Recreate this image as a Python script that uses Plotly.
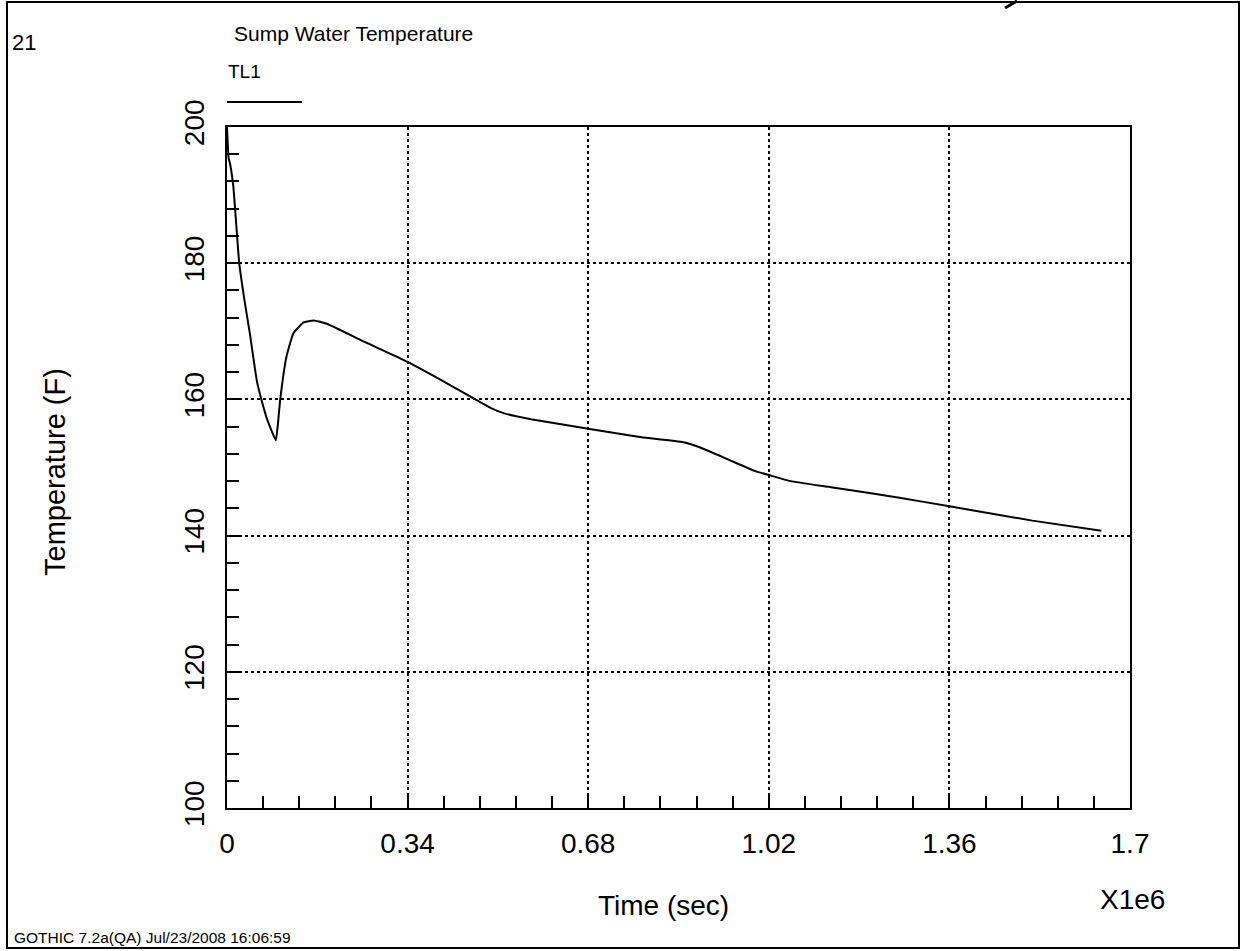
import plotly.graph_objects as go

# ---- data (time in units of 1e6 s, temperature in F) ----
time_1e6 = [0.0, 0.003, 0.006, 0.012, 0.023, 0.033, 0.043, 0.056, 0.065, 0.075,
            0.085, 0.092, 0.096, 0.100, 0.106, 0.112, 0.125, 0.144, 0.163, 0.188,
            0.26, 0.34, 0.42, 0.471, 0.50, 0.522, 0.572, 0.68, 0.774, 0.859,
            0.892, 0.943, 0.993, 1.02, 1.061, 1.137, 1.263, 1.36, 1.516, 1.646]
temp_F = [200.0, 195.5, 194.5, 191.2, 180.0, 174.5, 169.7, 162.8, 159.9, 157.2,
          155.2, 154.0, 156.5, 159.9, 163.5, 166.3, 169.7, 171.3, 171.6, 171.1,
          168.4, 165.5, 162.1, 159.85, 158.6, 157.95, 157.1, 155.7, 154.5, 153.7,
          152.9, 151.2, 149.5, 148.9, 148.0, 147.1, 145.6, 144.3, 142.2, 140.7]

x_tick_vals = [0, 0.34, 0.68, 1.02, 1.36, 1.7]
x_tick_text = ["0", "0.34", "0.68", "1.02", "1.36", "1.7"]
y_tick_vals = [100, 120, 140, 160, 180, 200]
y_tick_text = ["100", "120", "140", "160", "180", "200"]

# ---- layout geometry ----
W, H = 1241, 951
L, R, T, B = 227, 1130, 127, 808
FONT = "Liberation Sans, Arial, sans-serif"


def px(x):
    return (x - L) / (R - L)


def py(y):
    return (B - y) / (B - T)


fig = go.Figure(
    go.Scatter(x=time_1e6, y=temp_F, mode="lines",
               line=dict(color="black", width=2, shape="spline", smoothing=0.4),
               showlegend=False, hoverinfo="skip")
)

fig.update_layout(
    width=W, height=H,
    margin=dict(l=L, r=W - R, t=T, b=H - B, pad=0),
    paper_bgcolor="white", plot_bgcolor="white",
    font=dict(family=FONT, color="black"),
    showlegend=False,
)

axis_common = dict(
    ticks="inside", ticklen=12, tickwidth=2, tickcolor="black",
    showline=True, linecolor="black", linewidth=2, mirror=True,
    showgrid=True, gridcolor="black", griddash="dot", gridwidth=1.5,
    zeroline=False, tickfont=dict(size=28, family=FONT, color="black"),
)

fig.update_xaxes(
    range=[0, 1.7], tickmode="array", tickvals=x_tick_vals, ticktext=x_tick_text,
    ticklabelstandoff=9,
    minor=dict(ticks="inside", ticklen=12, tickwidth=2, tickcolor="black",
               tickmode="linear", tick0=0, dtick=0.068, showgrid=False),
    **axis_common,
)
fig.update_yaxes(
    range=[100, 200], tickmode="array", tickvals=y_tick_vals, ticktext=y_tick_text,
    tickangle=-90, ticklabelstandoff=10,
    minor=dict(ticks="inside", ticklen=12, tickwidth=2, tickcolor="black",
               tickmode="linear", tick0=100, dtick=4, showgrid=False),
    **axis_common,
)

ann = []
ann.append(dict(text="21", x=px(10), y=py(43), xanchor="left", yanchor="middle",
                font=dict(size=22)))
ann.append(dict(text="Sump Water Temperature", x=px(232), y=py(33), xanchor="left",
                yanchor="middle", font=dict(size=21)))
ann.append(dict(text="TL1", x=px(226), y=py(71), xanchor="left", yanchor="middle",
                font=dict(size=19)))
ann.append(dict(text="Temperature (F)", x=px(55), y=py(472), xanchor="center",
                yanchor="middle", textangle=-90, font=dict(size=29)))
ann.append(dict(text="Time (sec)", x=px(663), y=py(905), xanchor="center",
                yanchor="middle", font=dict(size=28)))
ann.append(dict(text="X1e6", x=px(1098), y=py(899), xanchor="left",
                yanchor="middle", font=dict(size=28)))
ann.append(dict(text="GOTHIC 7.2a(QA) Jul/23/2008 16:06:59", x=px(12), y=py(937),
                xanchor="left", yanchor="middle", font=dict(size=15.5)))
for a in ann:
    a.update(xref="paper", yref="paper", showarrow=False)
fig.update_layout(annotations=ann)

shapes = [
    # legend sample line
    dict(type="line", x0=px(227), x1=px(302), y0=py(102), y1=py(102),
         line=dict(color="black", width=2)),
    # page frame
    dict(type="rect", x0=px(7), x1=px(1239), y0=py(2), y1=py(948),
         line=dict(color="black", width=2)),
    # pen mark at top
    dict(type="line", x0=px(1005), x1=px(1017), y0=py(8), y1=py(1),
         line=dict(color="black", width=3)),
]
for s in shapes:
    s.update(xref="paper", yref="paper", layer="above")
fig.update_layout(shapes=shapes)

fig.write_html("out.html")
